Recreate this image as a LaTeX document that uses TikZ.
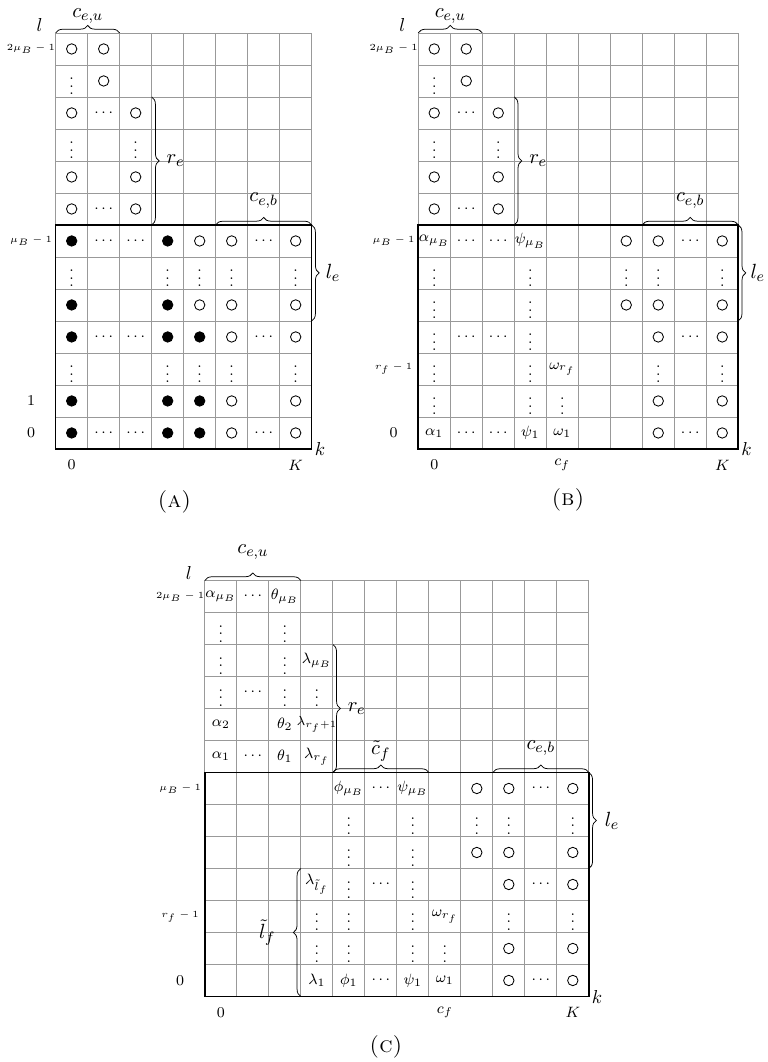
\documentclass[tikz,border=0pt]{standalone}
\usetikzlibrary{decorations.pathreplacing}

\tikzset{
  gridline/.style={gray!80, line width=0.45pt, step=1},
  boldframe/.style={line width=0.85pt},
  opendot/.style={circle, draw, inner sep=0pt, minimum size=1.95mm, line width=0.45pt},
  fulldot/.style={opendot, fill=black},
  cellval/.style={font=\footnotesize},
  cbrace/.style={decorate, decoration={brace, amplitude=4pt}},
  bracelab/.style={font=\fontsize{11}{13}\selectfont},
  rowlab/.style={font=\fontsize{5.5}{6.5}\selectfont},
  collab/.style={font=\footnotesize},
  subcap/.style={font=\large},
}

\begin{document}
\begin{tikzpicture}[x=0.6cm, y=0.6cm]
  \useasboundingbox (0,0) rectangle (23.969,-33.1875);

  % (A): occupancy with dots only
  \begin{scope}[shift={(1.74,-14.03)}]
    \draw[gridline] (0,0) grid (8,13);
    \draw[boldframe] (0,0) rectangle (8,7);
    \foreach \c/\r in {0/12,1/12,1/11,0/10,2/10,0/8,2/8,0/7,2/7,4/6,5/6,7/6,4/4,5/4,7/4,5/3,7/3,5/1,7/1,5/0,7/0}
      \node[opendot] (A-\c-\r) at (\c+.5,\r+.5) {};
    \foreach \c/\r in {0/6,3/6,0/4,3/4,0/3,3/3,4/3,0/1,3/1,4/1,0/0,3/0,4/0}
      \node[fulldot] (A-\c-\r) at (\c+.5,\r+.5) {};
    \foreach \c/\r/\t in {0/11/\vdots, 1/10/\cdots, 0/9/\vdots, 2/9/\vdots, 1/7/\cdots,
        1/6/\cdots, 2/6/\cdots, 6/6/\cdots, 0/5/\vdots, 3/5/\vdots, 4/5/\vdots, 5/5/\vdots, 7/5/\vdots,
        1/3/\cdots, 2/3/\cdots, 6/3/\cdots, 0/2/\vdots, 3/2/\vdots, 4/2/\vdots, 5/2/\vdots, 7/2/\vdots,
        1/0/\cdots, 2/0/\cdots, 6/0/\cdots}
      \node[cellval] (A-\c-\r) at (\c+.5,\r+.5) {$\t$};

    % braces
    \draw[cbrace] (0,13) -- (2,13) node[bracelab, midway, above=1.7pt] (A-ceu) {$c_{e,u}$};
    \draw[cbrace] (3,11) -- (3,7) node[bracelab, midway, right=4.5pt] (A-re) {$r_e$};
    \draw[cbrace] (5,7) -- (8,7) node[bracelab, midway, above=5.5pt] (A-ceb) {$c_{e,b}$};
    \draw[cbrace] (8,7) -- (8,4) node[bracelab, midway, right=4pt] (A-le) {$l_e$};

    % axes
    \node[anchor=south, inner sep=0.5pt] (A-l) at (-0.5,13) {$l$};
    \node[right, inner sep=1.5pt] (A-k) at (8,0) {$k$};
    \node[rowlab] (A-y12) at (-0.77,12.5) {$2\mu_B-1$};
    \node[rowlab] (A-y6) at (-0.77,6.5) {$\mu_B-1$};
    \node[collab] (A-y1) at (-0.77,1.5) {$1$};
    \node[collab] (A-y0) at (-0.77,0.5) {$0$};
    \node[collab] (A-x0) at (0.5,-0.5) {$0$};
    \node[collab] (A-xK) at (7.5,-0.5) {$K$};
    \node[subcap] (A-cap) at (3.71,-1.64) {\textsc{(a)}};
  \end{scope}

  % (B): first columns filled
  \begin{scope}[shift={(13.07,-14.03)}]
    \draw[gridline] (0,0) grid (10,13);
    \draw[boldframe] (0,0) rectangle (10,7);
    \foreach \c/\r in {0/12,1/12,1/11,0/10,2/10,0/8,2/8,0/7,2/7,6/6,7/6,9/6,6/4,7/4,9/4,7/3,9/3,7/1,9/1,7/0,9/0}
      \node[opendot] (B-\c-\r) at (\c+.5,\r+.5) {};
    \foreach \c/\r/\t in {0/11/\vdots, 1/10/\cdots, 0/9/\vdots, 2/9/\vdots, 1/7/\cdots,
        0/6/\alpha_{\mu_B}, 1/6/\cdots, 2/6/\cdots, 3/6/\psi_{\mu_B}, 8/6/\cdots,
        0/5/\vdots, 3/5/\vdots, 6/5/\vdots, 7/5/\vdots, 9/5/\vdots,
        0/4/\vdots, 3/4/\vdots,
        0/3/\vdots, 1/3/\cdots, 2/3/\cdots, 3/3/\vdots, 8/3/\cdots,
        0/2/\vdots, 3/2/\vdots, 4/2/\omega_{r_f}, 7/2/\vdots, 9/2/\vdots,
        0/1/\vdots, 3/1/\vdots, 4/1/\vdots,
        0/0/\alpha_1, 1/0/\cdots, 2/0/\cdots, 3/0/\psi_1, 4/0/\omega_1, 8/0/\cdots}
      \node[cellval] (B-\c-\r) at (\c+.5,\r+.5) {$\t$};

    % braces
    \draw[cbrace] (0,13) -- (2,13) node[bracelab, midway, above=1.7pt] (B-ceu) {$c_{e,u}$};
    \draw[cbrace] (3,11) -- (3,7) node[bracelab, midway, right=4.5pt] (B-re) {$r_e$};
    \draw[cbrace] (7,7) -- (10,7) node[bracelab, midway, above=5.5pt] (B-ceb) {$c_{e,b}$};
    \draw[cbrace] (10,7) -- (10,4) node[bracelab, midway, right=3pt] (B-le) {$l_e$};

    % axes
    \node[anchor=south, inner sep=0.5pt] (B-l) at (-0.5,13) {$l$};
    \node[right, inner sep=1.5pt] (B-k) at (10,0) {$k$};
    \node[rowlab] (B-y12) at (-0.77,12.5) {$2\mu_B-1$};
    \node[rowlab] (B-y6) at (-0.77,6.5) {$\mu_B-1$};
    \node[rowlab] (B-y2) at (-0.77,2.5) {$r_f-1$};
    \node[collab] (B-y0) at (-0.77,0.5) {$0$};
    \node[collab] (B-x0) at (0.5,-0.5) {$0$};
    \node[collab] (B-xc) at (4.5,-0.5) {$c_f$};
    \node[collab] (B-xK) at (9.5,-0.5) {$K$};
    \node[subcap] (B-cap) at (4.68,-1.6) {\textsc{(b)}};
  \end{scope}

  % (C): both blocks filled
  \begin{scope}[shift={(6.40,-31.14)}]
    \draw[gridline] (0,0) grid (12,13);
    \draw[boldframe] (0,0) rectangle (12,7);
    \foreach \c/\r in {8/6,9/6,11/6,8/4,9/4,11/4,9/3,11/3,9/1,11/1,9/0,11/0}
      \node[opendot] (C-\c-\r) at (\c+.5,\r+.5) {};
    \foreach \c/\r/\t in {0/12/\alpha_{\mu_B}, 1/12/\cdots, 2/12/\theta_{\mu_B},
        0/11/\vdots, 2/11/\vdots,
        0/10/\vdots, 2/10/\vdots, 3/10/\lambda_{\mu_B},
        0/9/\vdots, 1/9/\cdots, 2/9/\vdots, 3/9/\vdots,
        0/8/\alpha_2, 2/8/\theta_2,
        0/7/\alpha_1, 1/7/\cdots, 2/7/\theta_1, 3/7/\lambda_{r_f},
        4/6/\phi_{\mu_B}, 5/6/\cdots, 6/6/\psi_{\mu_B}, 10/6/\cdots,
        4/5/\vdots, 6/5/\vdots, 8/5/\vdots, 9/5/\vdots, 11/5/\vdots,
        4/4/\vdots, 6/4/\vdots,
        3/3/\lambda_{\tilde l_f}, 4/3/\vdots, 5/3/\cdots, 6/3/\vdots, 10/3/\cdots,
        3/2/\vdots, 4/2/\vdots, 6/2/\vdots, 7/2/\omega_{r_f}, 9/2/\vdots, 11/2/\vdots,
        3/1/\vdots, 4/1/\vdots, 6/1/\vdots, 7/1/\vdots,
        3/0/\lambda_1, 4/0/\phi_1, 5/0/\cdots, 6/0/\psi_1, 7/0/\omega_1, 10/0/\cdots}
      \node[cellval] (C-\c-\r) at (\c+.5,\r+.5) {$\t$};
    \node[font=\scriptsize] (C-3-8) at (3.5,8.5) {$\lambda_{r_f+1}$};

    % braces
    \draw[cbrace] (0,13) -- (3,13) node[bracelab, midway, above=7.5pt] (C-ceu) {$c_{e,u}$};
    \draw[cbrace] (4,11) -- (4,7) node[bracelab, midway, right=4.5pt] (C-re) {$r_e$};
    \draw[cbrace] (4,7) -- (7,7) node[bracelab, midway, above=2.5pt] (C-cf) {$\tilde c_f$};
    \draw[cbrace] (9,7) -- (12,7) node[bracelab, midway, above=5.5pt] (C-ceb) {$c_{e,b}$};
    \draw[cbrace] (12,7) -- (12,4) node[bracelab, midway, right=5pt] (C-le) {$l_e$};
    \draw[cbrace] (3,0) -- (3,4) node[bracelab, midway, left=10pt] (C-lf) {$\tilde l_f$};

    % axes
    \node[anchor=south, inner sep=0.5pt] (C-l) at (-0.5,13) {$l$};
    \node[right, inner sep=1.5pt] (C-k) at (12,0) {$k$};
    \node[rowlab] (C-y12) at (-0.77,12.5) {$2\mu_B-1$};
    \node[rowlab] (C-y6) at (-0.77,6.5) {$\mu_B-1$};
    \node[rowlab] (C-y2) at (-0.77,2.5) {$r_f-1$};
    \node[collab] (C-y0) at (-0.77,0.5) {$0$};
    \node[collab] (C-x0) at (0.5,-0.5) {$0$};
    \node[collab] (C-xc) at (7.5,-0.5) {$c_f$};
    \node[collab] (C-xK) at (11.5,-0.5) {$K$};
    \node[subcap] (C-cap) at (5.66,-1.58) {\textsc{(c)}};
  \end{scope}
\end{tikzpicture}
\end{document}
